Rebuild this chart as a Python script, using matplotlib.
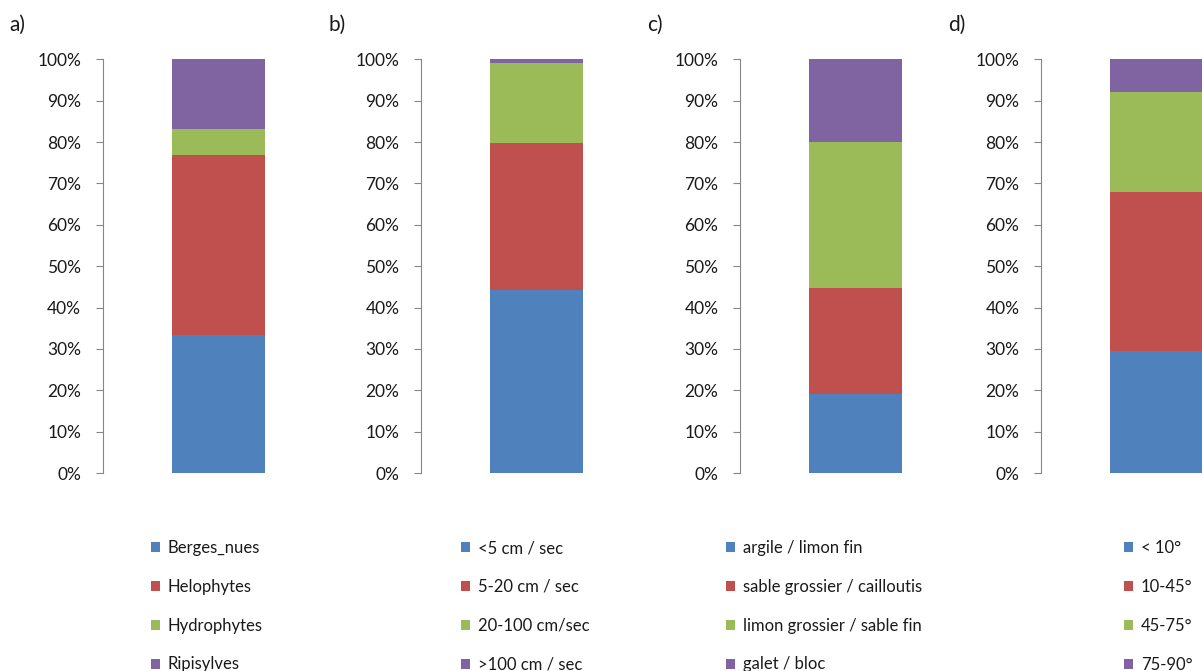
import matplotlib
matplotlib.use("Agg")
import matplotlib.pyplot as plt
from matplotlib.ticker import PercentFormatter

plt.rcParams['font.family'] = ['Lato', 'DejaVu Sans']

# shares (%) of each class, bottom to top
panel_tags = ['a)', 'b)', 'c)', 'd)']
vegetation = [33.3, 43.5, 6.3, 16.9]
current_speed = [44.2, 35.5, 19.3, 1.0]
substrate = [19.0, 25.7, 35.4, 19.9]
bank_slope = [29.5, 38.4, 24.1, 8.0]

vegetation_labels = ['Berges_nues', 'Helophytes', 'Hydrophytes', 'Ripisylves']
speed_labels = ['<5 cm / sec', '5-20 cm / sec', '20-100 cm/sec', '>100 cm / sec']
substrate_labels = ['argile / limon fin', 'sable grossier / cailloutis',
                    'limon grossier / sable fin', 'galet / bloc']
slope_labels = ['< 10°', '10-45°', '45-75°', '75-90°']

colors = ['#4F81BD', '#C0504D', '#9BBB59', '#8064A2']

W, H = 1202, 671
fig = plt.figure(figsize=(W / 100, H / 100), dpi=100)

# (values, legend labels, y-axis x position px, legend x position px)
panels = [
    (vegetation, vegetation_labels, 102.7, 151),
    (current_speed, speed_labels, 421, 461),
    (substrate, substrate_labels, 740, 726),
    (bank_slope, slope_labels, 1041, 1124),
]

y0, y1 = 473, 59.3
for tag, (vals, labels, ax_x, leg_x) in zip(panel_tags, panels):
    ax = fig.add_axes([ax_x / W, (H - y0) / H, 231.4 / W, (y0 - y1) / H])
    bottom = 0
    for v, lab, c in zip(vals, labels, colors):
        ax.bar(0, v, width=0.4, bottom=bottom, color=c, label=lab)
        bottom += v
    ax.set_xlim(-0.5, 0.5)
    ax.set_ylim(0, 100)
    ax.set_yticks(range(0, 101, 10))
    ax.yaxis.set_major_formatter(PercentFormatter(decimals=0))
    ax.set_xticks([])
    for s in ['top', 'right', 'bottom']:
        ax.spines[s].set_visible(False)
    ax.spines['left'].set_color('#868686')
    ax.tick_params(axis='y', direction='out', length=5, color='#868686',
                   labelsize=12.5, labelcolor='#1a1a1a', pad=10.5)

    fig.text((ax_x - 93) / W, (H - 25) / H, tag, fontsize=15,
             color='#1a1a1a', va='center', ha='left')

    leg = ax.legend(loc='upper left', bbox_to_anchor=(leg_x / W, (H - 540) / H),
                    bbox_transform=fig.transFigure, frameon=False,
                    handlelength=0.55, handleheight=0.55, handletextpad=0.45,
                    labelspacing=1.37, borderpad=0, borderaxespad=0,
                    fontsize=12)
    for t in leg.get_texts():
        t.set_color('#1a1a1a')

fig.savefig('out.png', dpi=100)
